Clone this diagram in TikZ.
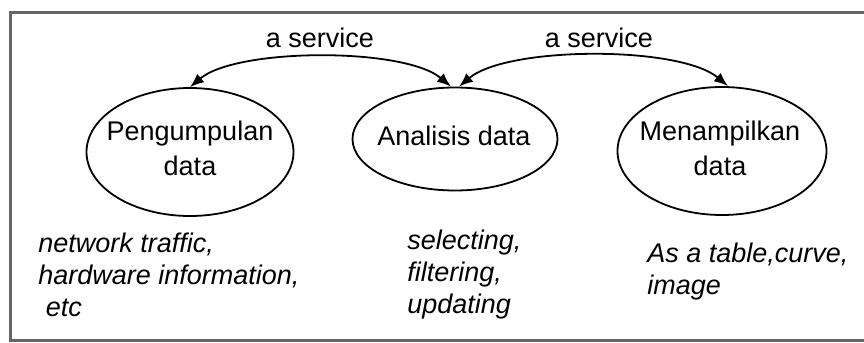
\documentclass[tikz,border=0pt]{standalone}
\usepackage{fontspec}
\setmainfont{Liberation Sans}
\usetikzlibrary{shapes.geometric, arrows.meta, positioning}

\begin{document}
\begin{tikzpicture}[x=0.5pt, y=-0.5pt,
        every node/.style={inner sep=0pt, font=\fontsize{13.5pt}{17.5pt}\selectfont},
        oval/.style={draw, ellipse, line width=0.9pt},
        note/.style={anchor=north west, align=left, font=\fontsize{13.5pt}{16pt}\selectfont\itshape},
        service/.style={line width=0.9pt, {Latex[length=7pt,width=5.5pt]}-{Latex[length=7pt,width=5.5pt]}, out=40, in=140, looseness=0.6}]
        \useasboundingbox (0,0) rectangle (864,343);
        %bingkai
        \draw[black!60, line width=1.5pt] (10,12) rectangle (900,340);
        %tiga proses
        \node[oval, minimum width=103.5pt, minimum height=64pt] (kumpul) at (190,152) {};
        \node[oval, minimum width=102.5pt, minimum height=51.5pt] (analisis) at (455,139) {};
        \node[oval, minimum width=104.5pt, minimum height=64pt] (tampil) at (722,151) {};
        \node[align=center, anchor=north] (kumpulTeks) at (190,121) {Pengumpulan\\data};
        \node[anchor=north] (analisisTeks) at (454,126) {Analisis data};
        \node[align=center, anchor=north] (tampilTeks) at (720,121) {Menampilkan\\data};
        %layanan
        \draw[service] (kumpul.north) to ([xshift=-2pt]analisis.north);
        \draw[service] ([xshift=2pt]analisis.north) to ([xshift=3pt]tampil.north);
        \node[anchor=base] (layananKiri) at (320,47) {a service};
        \node[anchor=base] (layananKanan) at (599,47) {a service};
        %keterangan
        \node[note] (catatanKumpul) at (38,233) {network traffic,\\hardware information,\\\ etc};
        \node[note] (catatanAnalisis) at (407,230) {selecting,\\filtering,\\updating};
        \node[note] (catatanTampil) at (647,243) {As a table,curve,\\image};
\end{tikzpicture}
\end{document}
